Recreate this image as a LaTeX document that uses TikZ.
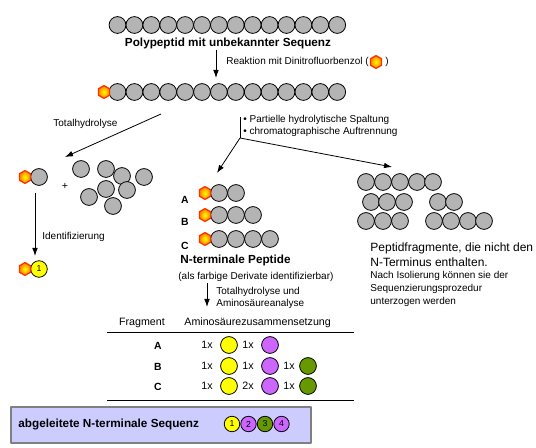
\documentclass[tikz,border=0pt]{standalone}
\usepackage{fontspec}
\setmainfont{Liberation Sans}
\usepackage{tikz}
\usetikzlibrary{arrows,arrows.meta,shapes}

\definecolor{aagray}{HTML}{B4B4B4}
\definecolor{aayellow}{HTML}{FFFF00}
\definecolor{aapurple}{HTML}{CC66FF}
\definecolor{aagreen}{HTML}{669900}
\definecolor{dnpred}{HTML}{FF3300}
\definecolor{dnporange}{HTML}{FF8000}
\definecolor{boxblue}{HTML}{CCCCFF}
\definecolor{boxgray}{HTML}{808080}

\tikzset{
  aa/.style={circle,draw,fill=aagray,inner sep=0pt,minimum size=12.6pt,line width=0.6pt},
  dnp/.style={regular polygon,regular polygon sides=6,shape border rotate=90,draw=dnpred,line width=1pt,inner color=yellow,outer color=dnporange,inner sep=0pt,minimum size=9.6pt},
  numaa/.style={circle,draw,line width=0.6pt,inner sep=0pt,minimum size=11.6pt,font=\fontsize{6.5}{7}\selectfont},
  txt/.style={inner sep=0pt,font=\fontsize{7.5}{9.75}\selectfont},
  tabtxt/.style={inner sep=0pt,font=\fontsize{8}{9.6}\selectfont},
  bigtxt/.style={inner sep=0pt,font=\fontsize{9}{10.5}\selectfont},
  headtxt/.style={inner sep=0pt,font=\bfseries\fontsize{8.8}{10}\selectfont},
  lettxt/.style={inner sep=0pt,font=\bfseries\fontsize{7.8}{9}\selectfont},
}

\begin{document}
\begin{tikzpicture}[>={Latex[length=6pt,width=4.2pt]},line join=bevel,x=0.75pt,y=-0.75pt,line width=0.6pt]
\useasboundingbox (0,0) rectangle (536,448);
%%
\foreach \i in {1,...,14} \node[aa] (p\i) at (100.6+16.9*\i,25) {};
\node[headtxt] (title) at (228,43) {Polypeptid mit unbekannter Sequenz};
\coordinate (r0) at (216,50);
\coordinate (r1) at (216,78);
\draw [->] (r0) -- (r1);
\node[txt,anchor=west] (rlab) at (226,62) {Reaktion mit Dinitrofluorbenzol (};
\node[dnp] (rhex) at (376,62) {};
\node[txt] (rpar) at (387,62) {)};
\foreach \i in {1,...,14} \node[aa] (q\i) at (100.6+16.9*\i,92) {};
\node[dnp] (q0) at (104,92) {};
%
\coordinate (t0) at (161,114);
\coordinate (t1) at (65,157);
\draw [->] (t0) -- (t1);
\node[txt,anchor=west] (tlab) at (53,124) {Totalhydrolyse};
\coordinate (s0) at (240,117);
\coordinate (s1) at (240,138);
\coordinate (s2) at (217,173);
\coordinate (s3) at (392,167);
\draw (s0) -- (s1);
\draw [->] (s1) -- (s2);
\draw [->] (s1) -- (s3);
\node[txt,anchor=west] (slab1) at (243,120) {• Partielle hydrolytische Spaltung};
\node[txt,anchor=west] (slab2) at (243,132) {• chromatographische Auftrennung};
%
\node[aa] (l1) at (39,177) {};
\node[dnp] (h1) at (25,177) {};
\node[tabtxt] (plus) at (65,186) {+};
\foreach \x/\y [count=\k] in {81/169,106/169,122/176,144/177,89/197,106/189,127/190,113/206}
  \node[aa] (free\k) at (\x,\y) {};
\coordinate (i0) at (35,193);
\coordinate (i1) at (35,256);
\draw [->] (i0) -- (i1);
\node[txt,anchor=west] (ilab) at (42,237) {Identifizierung};
\node[numaa,fill=aayellow,minimum size=12.4pt] (l2) at (39,269) {1};
\node[dnp] (h2) at (25,269) {};
%
\foreach \r/\y/\n in {A/193/2,B/215/3,C/239/4}{
  \foreach \i in {1,...,\n} \node[aa] (c\r\i) at (202+17*\i,\y) {};
  \node[dnp] (h\r) at (205,\y) {};
  \node[lettxt] (lab\r) at (185,\y+7) {\r};
}
\node[headtxt,anchor=west] (nlab) at (180,260) {N-terminale Peptide};
\node[txt,anchor=west] (nsub) at (178,277) {(als farbige Derivate identifizierbar)};
\coordinate (h0) at (207,283);
\coordinate (h3) at (207,307);
\draw [->] (h0) -- (h3);
\node[txt,anchor=west] (hlab1) at (216,292) {Totalhydrolyse und};
\node[txt,anchor=west] (hlab2) at (216,304) {Aminosäureanalyse};
%
\foreach \x [count=\k] in {366,383,400,417,433} \node[aa] (fa\k) at (\x,182) {};
\foreach \x [count=\k] in {371,387,404,438,454} \node[aa] (fb\k) at (\x,202) {};
\foreach \x [count=\k] in {366,383,400,434,451,468,484} \node[aa] (fc\k) at (\x,221) {};
\node[bigtxt,anchor=west] (flab1) at (370,248) {Peptidfragmente, die nicht den};
\node[bigtxt,anchor=west] (flab2) at (370,262) {N-Terminus enthalten.};
\node[txt,anchor=west] (flab3) at (370,276) {Nach Isolierung können sie der};
\node[txt,anchor=west] (flab4) at (370,289) {Sequenzierungsprozedur};
\node[txt,anchor=west] (flab5) at (370,302) {unterzogen werden};
%
\node[tabtxt] (fraghead) at (142,323) {Fragment};
\node[tabtxt,anchor=west] (comphead) at (184,323) {Aminosäurezusammensetzung};
\coordinate (k0) at (107,332);
\coordinate (k1) at (354,332);
\coordinate (k2) at (107,400);
\coordinate (k3) at (354,400);
\draw (k0) -- (k1);
\draw (k2) -- (k3);
\foreach \r/\y/\m in {A/345/1x,B/366/1x,C/386/2x}{
  \node[lettxt] (row\r) at (158,\y+1) {\r};
  \node[tabtxt] (n\r1) at (207,\y) {1x};
  \node[aa,fill=aayellow] (y\r) at (229,\y) {};
  \node[tabtxt] (n\r2) at (248,\y) {\m};
  \node[aa,fill=aapurple] (v\r) at (270,\y) {};
}
\foreach \r/\y in {B/366,C/386}{
  \node[tabtxt] (n\r3) at (289,\y) {1x};
  \node[aa,fill=aagreen] (g\r) at (308,\y) {};
}
%
\node[draw=boxgray,fill=boxblue,line width=0.9pt,inner sep=0pt,minimum width=225pt,minimum height=27pt] (seqbox) at (161,425) {};
\node[headtxt,anchor=west] (seqlab) at (18,424) {abgeleitete N-terminale Sequenz};
\foreach \k/\c in {1/aayellow,2/aapurple,3/aagreen,4/aapurple}
  \node[numaa,fill=\c] (s\k) at (215.5+16.5*\k,424) {\k};
%
\end{tikzpicture}
\end{document}
